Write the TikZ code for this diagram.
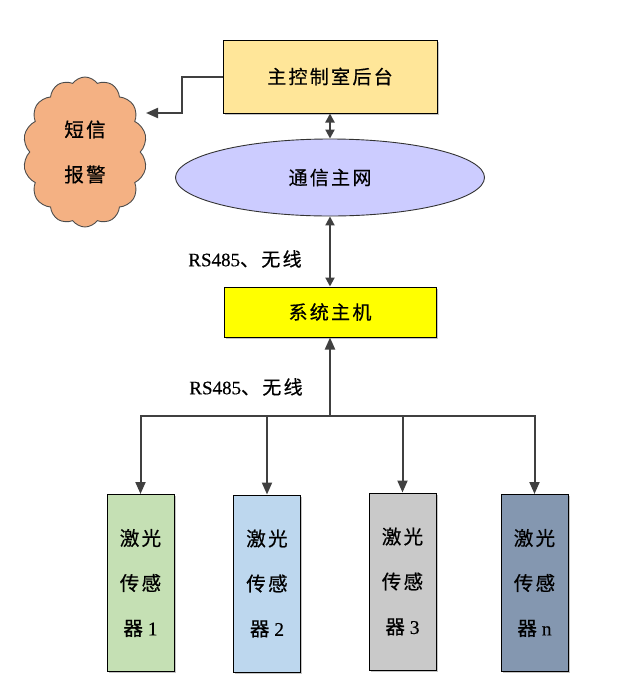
\documentclass[tikz,border=0pt]{standalone}
\usepackage{fontspec}
\setmainfont{Liberation Serif}[FakeBold=0.4]
\newfontfamily\cjk[LetterSpace=12,FakeBold=0.6]{Noto Sans CJK SC}
\usetikzlibrary{shapes.geometric,shapes.symbols,arrows.meta,shadows}
\definecolor{topc}{HTML}{FFE699}
\definecolor{netc}{HTML}{CCCCFF}
\definecolor{hostc}{HTML}{FFFF00}
\definecolor{cloudc}{HTML}{F4B183}
\definecolor{sa}{HTML}{C5E0B4}
\definecolor{sb}{HTML}{BDD7EE}
\definecolor{sc}{HTML}{C9C9C9}
\definecolor{sd}{HTML}{8497B0}
\definecolor{linec}{HTML}{404040}
\tikzset{
  boxsh/.style={draw=black, line width=1pt, drop shadow={shadow xshift=1.5pt, shadow yshift=-1.5pt, fill=black!45, opacity=0.5}},
  mainbox/.style={boxsh, minimum width=212pt, inner sep=0pt, font=\fontsize{19}{22}\selectfont},
  sensor/.style={boxsh, minimum width=67pt, minimum height=177pt, inner sep=0pt, align=center, font=\fontsize{19.5}{45}\selectfont},
  arr/.style={draw=linec, line width=2pt, -{Triangle[length=12pt,width=10pt]}},
  dbl/.style={draw=linec, line width=2pt, {Triangle[length=9pt,width=9pt]}-{Triangle[length=9pt,width=9pt]}},
  lbl/.style={font=\fontsize{19}{22}\selectfont, inner sep=0pt}
}
\begin{document}
\begin{tikzpicture}[x=1pt,y=-1pt]
\useasboundingbox (0,0) rectangle (633,697);
\node[mainbox, fill=topc, minimum width=214pt, minimum height=73pt] (top) at (330,76.5) {\cjk 主控制室后台};
\node[cloud, cloud puffs=14, cloud puff arc=110, draw=black!70, line width=0.9pt, fill=cloudc, minimum width=124pt, minimum height=150pt, inner sep=0pt, align=center, font=\fontsize{19.5}{45}\selectfont] (cloud) at (85,152) {\cjk 短信\\\cjk 报警};
\node[ellipse, draw=black!80, line width=0.9pt, fill=netc, minimum width=309pt, minimum height=77pt, font=\fontsize{19}{22}\selectfont] (net) at (330,177.5) {\cjk 通信主网};
\node[mainbox, fill=hostc, minimum height=50pt] (host) at (330,312) {\cjk 系统主机};
\node[sensor, fill=sa] (s1) at (140.5,583) {{\cjk 激光}\\{\cjk 传感}\\{\cjk 器} 1};
\node[sensor, fill=sb] (s2) at (267,583.5) {{\cjk 激光}\\{\cjk 传感}\\{\cjk 器} 2};
\node[sensor, fill=sc] (s3) at (402.5,581.5) {{\cjk 激光}\\{\cjk 传感}\\{\cjk 器} 3};
\node[sensor, fill=sd] (sn) at (534.5,583) {{\cjk 激光}\\{\cjk 传感}\\{\cjk 器} n};
\node[lbl] (l1) at (245,259) {RS485{\cjk 、无线}};
\node[lbl] (l2) at (246,387) {RS485{\cjk 、无线}};
\coordinate (cloudin) at (146,113);
\coordinate (bus) at (330,416);
\draw[arr] (top.west) -- ++(-41,0) |- (cloudin);
\draw[dbl] (top.south) -- (net.north);
\draw[dbl] (net.south) -- (host.north);
\draw[arr] (bus) -- (host.south);
\draw[arr] (bus) -| (s1.north);
\draw[arr] (bus) -| (s2.north);
\draw[arr] (bus) -| (s3.north);
\draw[arr] (bus) -| (sn.north);
\end{tikzpicture}
\end{document}
